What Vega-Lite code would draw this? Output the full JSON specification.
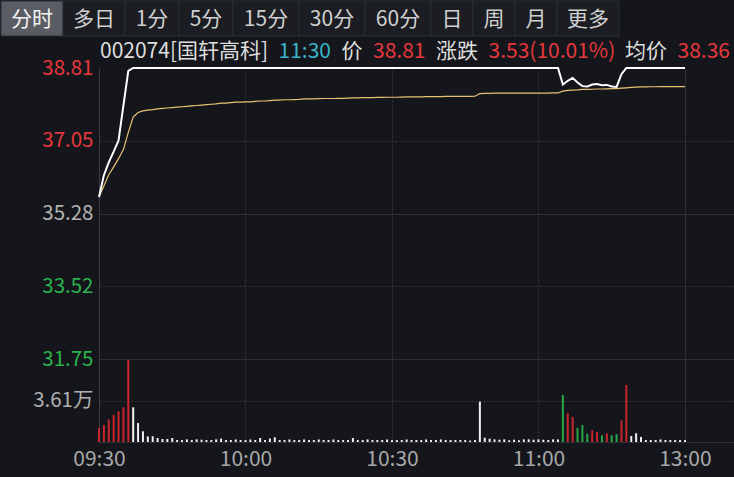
{
  "$schema": "https://vega.github.io/schema/vega-lite/v6.json",
  "background": "#14161b",
  "padding": {"left": 0, "top": 0, "right": 0, "bottom": 12},
  "spacing": 0,
  "bounds": "flush",
  "resolve": {"scale": {"color": "independent", "fill": "independent"}, "legend": {"color": "independent"}},
  "config": {
    "view": {"stroke": null},
    "font": "Noto Sans CJK SC",
    "text": {"font": "Noto Sans CJK SC"},
    "axis": {"labelFont": "Noto Sans CJK SC", "ticks": false, "domainColor": "#3b3e46", "gridColor": "#363941", "labelFontSize": 20.5, "title": null}
  },
  "datasets": {
    "tabs": [
      {"i": 0, "t": "分时", "sel": "on"},
      {"i": 1, "t": "多日", "sel": "off"},
      {"i": 2, "t": "1分", "sel": "off"},
      {"i": 3, "t": "5分", "sel": "off"},
      {"i": 4, "t": "15分", "sel": "off"},
      {"i": 5, "t": "30分", "sel": "off"},
      {"i": 6, "t": "60分", "sel": "off"},
      {"i": 7, "t": "日", "sel": "off"},
      {"i": 8, "t": "周", "sel": "off"},
      {"i": 9, "t": "月", "sel": "off"},
      {"i": 10, "t": "更多", "sel": "off"}
    ],
    "header": [
      {"i": 0, "s": "002074[国轩高科]", "kind": "name"},
      {"i": 1, "s": "11:30", "kind": "time"},
      {"i": 2, "s": "价", "kind": "label"},
      {"i": 3, "s": "38.81", "kind": "up"},
      {"i": 4, "s": "涨跌", "kind": "label"},
      {"i": 5, "s": "3.53(10.01%)", "kind": "up"},
      {"i": 6, "s": "均价", "kind": "label"},
      {"i": 7, "s": "38.36", "kind": "up"}
    ],
    "minute": [
      {"m":0,"p":35.68,"a":35.68,"v":1.22,"d":"up"},
      {"m":1,"p":36.21,"a":35.95,"v":1.48,"d":"up"},
      {"m":2,"p":36.52,"a":36.22,"v":1.97,"d":"up"},
      {"m":3,"p":36.78,"a":36.41,"v":2.35,"d":"up"},
      {"m":4,"p":37.05,"a":36.61,"v":2.67,"d":"up"},
      {"m":5,"p":37.90,"a":36.83,"v":3.02,"d":"up"},
      {"m":6,"p":38.74,"a":37.25,"v":7.13,"d":"up"},
      {"m":7,"p":38.81,"a":37.62,"v":3.02,"d":"flat"},
      {"m":8,"p":38.81,"a":37.73,"v":1.65,"d":"flat"},
      {"m":9,"p":38.81,"a":37.77,"v":0.93,"d":"flat"},
      {"m":10,"p":38.81,"a":37.79,"v":0.48,"d":"flat"},
      {"m":11,"p":38.81,"a":37.80,"v":0.50,"d":"flat"},
      {"m":12,"p":38.81,"a":37.82,"v":0.35,"d":"flat"},
      {"m":13,"p":38.81,"a":37.83,"v":0.26,"d":"flat"},
      {"m":14,"p":38.81,"a":37.84,"v":0.26,"d":"flat"},
      {"m":15,"p":38.81,"a":37.85,"v":0.35,"d":"flat"},
      {"m":16,"p":38.81,"a":37.86,"v":0.17,"d":"flat"},
      {"m":17,"p":38.81,"a":37.87,"v":0.17,"d":"flat"},
      {"m":18,"p":38.81,"a":37.88,"v":0.23,"d":"flat"},
      {"m":19,"p":38.81,"a":37.89,"v":0.17,"d":"flat"},
      {"m":20,"p":38.81,"a":37.90,"v":0.23,"d":"flat"},
      {"m":21,"p":38.81,"a":37.91,"v":0.20,"d":"flat"},
      {"m":22,"p":38.81,"a":37.92,"v":0.17,"d":"flat"},
      {"m":23,"p":38.81,"a":37.93,"v":0.17,"d":"flat"},
      {"m":24,"p":38.81,"a":37.94,"v":0.23,"d":"flat"},
      {"m":25,"p":38.81,"a":37.96,"v":0.30,"d":"flat"},
      {"m":26,"p":38.81,"a":37.96,"v":0.17,"d":"flat"},
      {"m":27,"p":38.81,"a":37.97,"v":0.17,"d":"flat"},
      {"m":28,"p":38.81,"a":37.98,"v":0.22,"d":"flat"},
      {"m":29,"p":38.81,"a":37.98,"v":0.17,"d":"flat"},
      {"m":30,"p":38.81,"a":37.99,"v":0.17,"d":"flat"},
      {"m":31,"p":38.81,"a":37.99,"v":0.22,"d":"flat"},
      {"m":32,"p":38.81,"a":38.00,"v":0.17,"d":"flat"},
      {"m":33,"p":38.81,"a":38.01,"v":0.35,"d":"flat"},
      {"m":34,"p":38.81,"a":38.01,"v":0.17,"d":"flat"},
      {"m":35,"p":38.81,"a":38.02,"v":0.30,"d":"flat"},
      {"m":36,"p":38.81,"a":38.03,"v":0.41,"d":"flat"},
      {"m":37,"p":38.81,"a":38.03,"v":0.17,"d":"flat"},
      {"m":38,"p":38.81,"a":38.04,"v":0.17,"d":"flat"},
      {"m":39,"p":38.81,"a":38.04,"v":0.22,"d":"flat"},
      {"m":40,"p":38.81,"a":38.045,"v":0.17,"d":"flat"},
      {"m":41,"p":38.81,"a":38.05,"v":0.17,"d":"flat"},
      {"m":42,"p":38.81,"a":38.06,"v":0.22,"d":"flat"},
      {"m":43,"p":38.81,"a":38.06,"v":0.17,"d":"flat"},
      {"m":44,"p":38.81,"a":38.06,"v":0.17,"d":"flat"},
      {"m":45,"p":38.81,"a":38.065,"v":0.22,"d":"flat"},
      {"m":46,"p":38.81,"a":38.07,"v":0.17,"d":"flat"},
      {"m":47,"p":38.81,"a":38.07,"v":0.17,"d":"flat"},
      {"m":48,"p":38.81,"a":38.07,"v":0.22,"d":"flat"},
      {"m":49,"p":38.81,"a":38.075,"v":0.17,"d":"flat"},
      {"m":50,"p":38.81,"a":38.075,"v":0.17,"d":"flat"},
      {"m":51,"p":38.81,"a":38.08,"v":0.17,"d":"flat"},
      {"m":52,"p":38.81,"a":38.085,"v":0.35,"d":"flat"},
      {"m":53,"p":38.81,"a":38.085,"v":0.17,"d":"flat"},
      {"m":54,"p":38.81,"a":38.09,"v":0.17,"d":"flat"},
      {"m":55,"p":38.81,"a":38.09,"v":0.22,"d":"flat"},
      {"m":56,"p":38.81,"a":38.09,"v":0.17,"d":"flat"},
      {"m":57,"p":38.81,"a":38.095,"v":0.17,"d":"flat"},
      {"m":58,"p":38.81,"a":38.095,"v":0.17,"d":"flat"},
      {"m":59,"p":38.81,"a":38.10,"v":0.22,"d":"flat"},
      {"m":60,"p":38.81,"a":38.10,"v":0.17,"d":"flat"},
      {"m":61,"p":38.81,"a":38.10,"v":0.17,"d":"flat"},
      {"m":62,"p":38.81,"a":38.105,"v":0.17,"d":"flat"},
      {"m":63,"p":38.81,"a":38.11,"v":0.22,"d":"flat"},
      {"m":64,"p":38.81,"a":38.11,"v":0.17,"d":"flat"},
      {"m":65,"p":38.81,"a":38.11,"v":0.17,"d":"flat"},
      {"m":66,"p":38.81,"a":38.11,"v":0.17,"d":"flat"},
      {"m":67,"p":38.81,"a":38.115,"v":0.22,"d":"flat"},
      {"m":68,"p":38.81,"a":38.115,"v":0.17,"d":"flat"},
      {"m":69,"p":38.81,"a":38.115,"v":0.17,"d":"flat"},
      {"m":70,"p":38.81,"a":38.115,"v":0.22,"d":"flat"},
      {"m":71,"p":38.81,"a":38.12,"v":0.17,"d":"flat"},
      {"m":72,"p":38.81,"a":38.12,"v":0.17,"d":"flat"},
      {"m":73,"p":38.81,"a":38.12,"v":0.17,"d":"flat"},
      {"m":74,"p":38.81,"a":38.12,"v":0.17,"d":"flat"},
      {"m":75,"p":38.81,"a":38.12,"v":0.17,"d":"flat"},
      {"m":76,"p":38.81,"a":38.12,"v":0.13,"d":"flat"},
      {"m":77,"p":38.81,"a":38.125,"v":0.17,"d":"flat"},
      {"m":78,"p":38.81,"a":38.19,"v":3.51,"d":"flat"},
      {"m":79,"p":38.81,"a":38.195,"v":0.37,"d":"flat"},
      {"m":80,"p":38.81,"a":38.195,"v":0.29,"d":"flat"},
      {"m":81,"p":38.81,"a":38.20,"v":0.23,"d":"flat"},
      {"m":82,"p":38.81,"a":38.20,"v":0.20,"d":"flat"},
      {"m":83,"p":38.81,"a":38.20,"v":0.23,"d":"flat"},
      {"m":84,"p":38.81,"a":38.20,"v":0.15,"d":"flat"},
      {"m":85,"p":38.81,"a":38.20,"v":0.20,"d":"flat"},
      {"m":86,"p":38.81,"a":38.20,"v":0.15,"d":"flat"},
      {"m":87,"p":38.81,"a":38.20,"v":0.23,"d":"flat"},
      {"m":88,"p":38.81,"a":38.20,"v":0.23,"d":"flat"},
      {"m":89,"p":38.81,"a":38.20,"v":0.20,"d":"flat"},
      {"m":90,"p":38.81,"a":38.20,"v":0.23,"d":"flat"},
      {"m":91,"p":38.81,"a":38.20,"v":0.20,"d":"flat"},
      {"m":92,"p":38.81,"a":38.20,"v":0.17,"d":"flat"},
      {"m":93,"p":38.81,"a":38.205,"v":0.23,"d":"flat"},
      {"m":94,"p":38.81,"a":38.205,"v":0.22,"d":"flat"},
      {"m":95,"p":38.41,"a":38.25,"v":4.09,"d":"down"},
      {"m":96,"p":38.50,"a":38.265,"v":2.52,"d":"up"},
      {"m":97,"p":38.57,"a":38.275,"v":2.18,"d":"up"},
      {"m":98,"p":38.46,"a":38.28,"v":1.24,"d":"down"},
      {"m":99,"p":38.37,"a":38.29,"v":1.48,"d":"down"},
      {"m":100,"p":38.36,"a":38.29,"v":0.72,"d":"down"},
      {"m":101,"p":38.41,"a":38.295,"v":1.02,"d":"up"},
      {"m":102,"p":38.42,"a":38.30,"v":0.87,"d":"up"},
      {"m":103,"p":38.39,"a":38.30,"v":0.58,"d":"down"},
      {"m":104,"p":38.40,"a":38.305,"v":0.76,"d":"up"},
      {"m":105,"p":38.36,"a":38.31,"v":0.58,"d":"down"},
      {"m":106,"p":38.35,"a":38.31,"v":0.67,"d":"down"},
      {"m":107,"p":38.66,"a":38.32,"v":1.89,"d":"up"},
      {"m":108,"p":38.81,"a":38.33,"v":4.96,"d":"up"},
      {"m":109,"p":38.81,"a":38.34,"v":0.52,"d":"flat"},
      {"m":110,"p":38.81,"a":38.345,"v":0.76,"d":"flat"},
      {"m":111,"p":38.81,"a":38.35,"v":0.44,"d":"flat"},
      {"m":112,"p":38.81,"a":38.35,"v":0.17,"d":"flat"},
      {"m":113,"p":38.81,"a":38.355,"v":0.17,"d":"flat"},
      {"m":114,"p":38.81,"a":38.355,"v":0.17,"d":"flat"},
      {"m":115,"p":38.81,"a":38.36,"v":0.22,"d":"flat"},
      {"m":116,"p":38.81,"a":38.36,"v":0.17,"d":"flat"},
      {"m":117,"p":38.81,"a":38.36,"v":0.17,"d":"flat"},
      {"m":118,"p":38.81,"a":38.36,"v":0.17,"d":"flat"},
      {"m":119,"p":38.81,"a":38.36,"v":0.17,"d":"flat"},
      {"m":120,"p":38.81,"a":38.36,"v":0.17,"d":"flat"}
    ]
  },
  "vconcat": [
    {
      "width": 636,
      "height": 35,
      "data": {"name": "tabs"},
      "transform": [
        {"calculate": "length(replace(datum.t, regexp('[\\\\x00-\\\\x7f]', 'g'), ''))", "as": "ncjk"},
        {"calculate": "12 * length(datum.t) + 8 * datum.ncjk + 22", "as": "w"},
        {"window": [{"op": "sum", "field": "w", "as": "cum"}], "sort": [{"field": "i"}], "frame": [null, 0]},
        {"calculate": "datum.cum - datum.w", "as": "x0"},
        {"calculate": "datum.cum - datum.w / 2", "as": "xm"}
      ],
      "layer": [
        {
          "mark": {"type": "rect", "stroke": "#2b2e36", "strokeWidth": 1},
          "encoding": {
            "x": {"field": "x0", "type": "quantitative", "scale": {"domain": [0, 734], "range": [-98, 636], "nice": false, "zero": false}, "axis": null},
            "x2": {"field": "cum"},
            "fill": {"field": "sel", "type": "nominal", "scale": {"domain": ["on", "off"], "range": ["#5a5c63", "#1b1d23"]}, "legend": null}
          }
        },
        {
          "mark": {"type": "text", "fontSize": 21, "baseline": "middle", "align": "center", "dy": 1},
          "encoding": {
            "x": {"field": "xm", "type": "quantitative"},
            "text": {"field": "t"},
            "color": {"field": "sel", "type": "nominal", "scale": {"domain": ["on", "off"], "range": ["#f2f2f2", "#d0d0d0"]}, "legend": null}
          }
        }
      ]
    },
    {
      "width": 636,
      "height": 32,
      "data": {"name": "header"},
      "transform": [
        {"calculate": "length(replace(datum.s, regexp('[\\\\x00-\\\\x7f]', 'g'), ''))", "as": "ncjk"},
        {"calculate": "length(datum.s) + datum.ncjk + 1", "as": "u"},
        {"window": [{"op": "sum", "field": "u", "as": "cum"}], "sort": [{"field": "i"}], "frame": [null, 0]},
        {"calculate": "datum.cum - datum.u", "as": "start"}
      ],
      "mark": {"type": "text", "align": "left", "baseline": "middle", "fontSize": 21},
      "encoding": {
        "x": {"field": "start", "type": "quantitative", "scale": {"domain": [0, 60], "range": [1, 631], "nice": false, "zero": false}, "axis": null},
        "text": {"field": "s"},
        "color": {"field": "kind", "type": "nominal", "scale": {"domain": ["name", "time", "label", "up"], "range": ["#dedede", "#38b3c8", "#dedede", "#e5383b"]}, "legend": null}
      }
    },
    {
      "width": 636,
      "height": 291,
      "data": {"name": "minute"},
      "encoding": {
        "x": {
          "field": "m", "type": "quantitative",
          "scale": {"domain": [0, 130.25], "nice": false, "zero": false},
          "axis": {"values": [0, 30, 60, 90, 120], "labels": false, "domain": false, "grid": true, "title": null,
            "gridDash": {"condition": {"test": "datum.value == 30 || datum.value == 60 || datum.value == 90", "value": [2, 2]}, "value": [1, 0]}}
        }
      },
      "layer": [
        {
          "mark": {"type": "line", "color": "#e8c272", "strokeWidth": 1.2},
          "encoding": {
            "y": {
              "field": "a", "type": "quantitative",
              "scale": {"domain": [31.75, 38.81], "nice": false, "zero": false},
              "axis": {
                "values": [31.75, 33.52, 35.28, 37.05, 38.81], "format": ".2f", "title": null, "labelPadding": 6,
                "domain": true, "grid": true,
                "gridDash": {"condition": {"test": "datum.value == 33.52 || datum.value == 37.05", "value": [2, 2]}, "value": [1, 0]},
                "gridOpacity": {"condition": {"test": "datum.value > 38.8", "value": 0}, "value": 1},
                "labelColor": {"condition": [{"test": "datum.value > 35.3", "value": "#e5383b"}, {"test": "datum.value < 35.2", "value": "#2bb24c"}], "value": "#b4b4b4"}
              }
            }
          }
        },
        {
          "mark": {"type": "line", "color": "#ffffff", "strokeWidth": 2},
          "encoding": {"y": {"field": "p", "type": "quantitative"}}
        }
      ]
    },
    {
      "width": 636,
      "height": 83,
      "data": {"name": "minute"},
      "mark": {"type": "rule", "strokeWidth": 2},
      "encoding": {
        "x": {
          "field": "m", "type": "quantitative",
          "scale": {"domain": [0, 130.25], "nice": false, "zero": false},
          "axis": {"values": [0, 30, 60, 90, 120], "domain": false, "grid": true, "title": null, "labelFlush": false, "labelPadding": 6,
            "labelFontSize": 21, "labelColor": "#a8a8a8",
            "labelExpr": "['09:30','10:00','10:30','11:00','13:00'][round(datum.value / 30)]",
            "gridDash": {"condition": {"test": "datum.value == 30 || datum.value == 60 || datum.value == 90", "value": [2, 2]}, "value": [1, 0]}}
        },
        "y": {
          "field": "v", "type": "quantitative",
          "scale": {"domain": [0, 7.22], "nice": false, "zero": true},
          "axis": {"values": [0, 3.61], "title": null, "labelPadding": 6, "domain": true, "grid": true, "labelColor": "#b0b0b0",
            "labelExpr": "datum.value == 0 ? '' : format(datum.value, '.2f') + '万'",
            "gridDash": {"condition": {"test": "datum.value == 0", "value": [1, 0]}, "value": [2, 2]}}
        },
        "y2": {"datum": 0},
        "color": {"field": "d", "type": "nominal", "scale": {"domain": ["up", "down", "flat"], "range": ["#c8262c", "#27a846", "#f0f0f0"]}, "legend": null}
      }
    }
  ]
}
